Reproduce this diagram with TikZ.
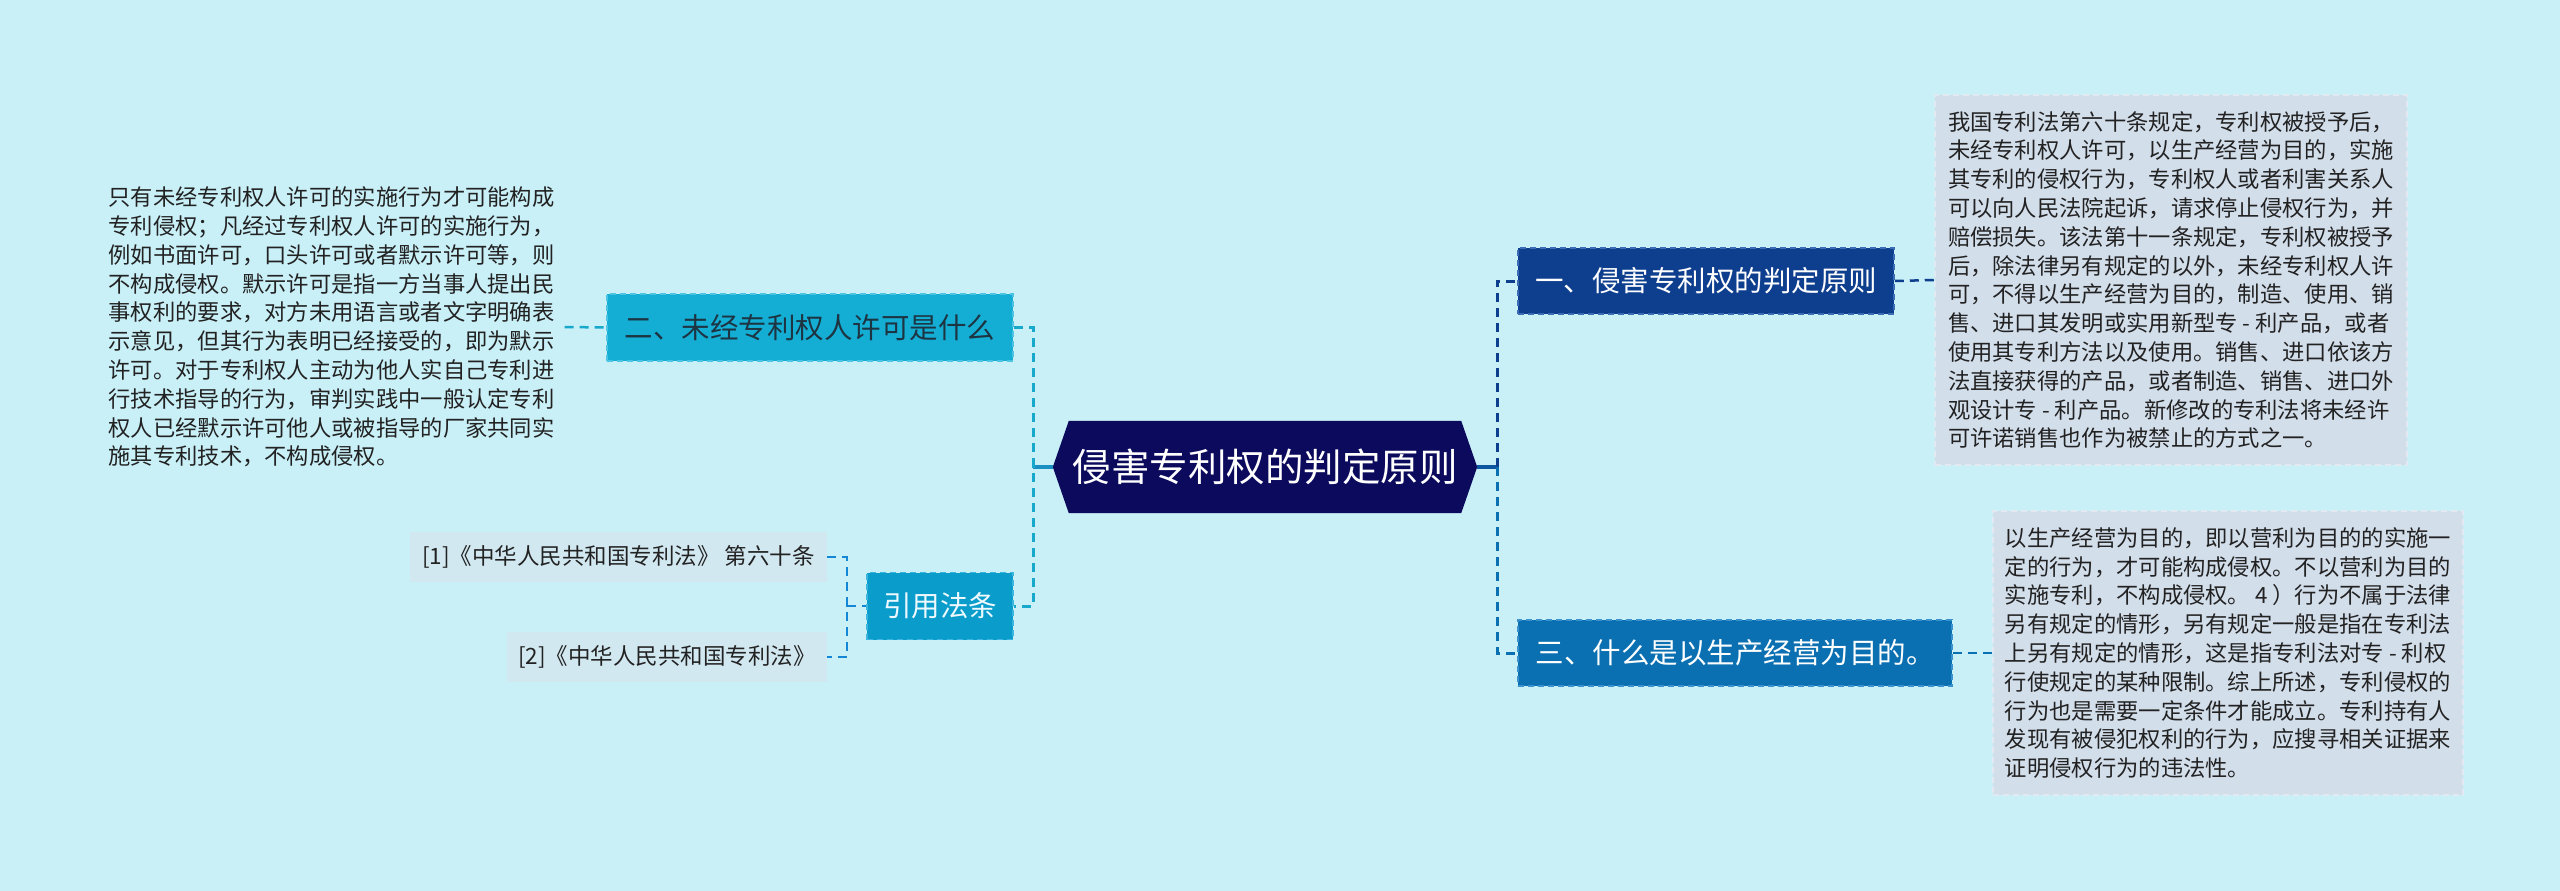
\documentclass[tikz,border=0pt]{standalone}
\usepackage{fontspec}
\setmainfont{Noto Sans CJK SC}
\usetikzlibrary{calc}
\pgfdeclarelayer{background}
\pgfsetlayers{background,main}
\definecolor{bgc}{HTML}{C9EFF7}
\definecolor{rootc}{HTML}{0B0A5C}
\definecolor{oneC}{HTML}{0E3E8E}
\definecolor{oneB}{HTML}{3C6CB4}
\definecolor{threeC}{HTML}{0B70B2}
\definecolor{threeB}{HTML}{3C92CC}
\definecolor{twoC}{HTML}{14AED5}
\definecolor{twoB}{HTML}{4CC4E2}
\definecolor{citeC}{HTML}{0A9DCB}
\definecolor{citeB}{HTML}{3CB6DE}
\definecolor{boxC}{HTML}{D3DEEB}
\definecolor{boxB}{HTML}{E2E9F3}
\definecolor{refC}{HTML}{D2E8F1}
\definecolor{leftL}{HTML}{18A8CC}
\definecolor{stubL}{HTML}{1A8FC2}
\definecolor{txt}{HTML}{222222}
\definecolor{twoT}{HTML}{1D3442}
\begin{document}
\begin{tikzpicture}[x=1pt,y=-1pt,
  bodyfont/.style={font=\fontsize{22.3}{28.8}\selectfont},
  lvone/.style={font=\fontsize{28.5}{34}\selectfont, inner sep=0pt, line width=1.5pt, dash pattern=on 6pt off 4pt},
  textbox/.style={bodyfont, text=txt, align=left, inner sep=0pt, fill=boxC, draw=boxB, line width=1.2pt, dash pattern=on 6pt off 4pt},
  refbox/.style={font=\fontsize{22.5}{28}\selectfont, text=txt, inner sep=0pt, fill=refC},
  bus/.style={line width=3pt, dash pattern=on 9pt off 6pt},
  link/.style={line width=2.5pt, dash pattern=on 9pt off 6pt},
  stub/.style={line width=4pt}]
\begin{pgfonlayer}{background}
\fill[bgc] (0,0) rectangle (2560,891);
\end{pgfonlayer}
\useasboundingbox (0,0) rectangle (2560,891);

% root
\node[font=\fontsize{38.5}{44}\selectfont, text=white, minimum width=424pt, minimum height=92pt, inner sep=0pt] (root) at (1265,467) {侵害专利权的判定原则};
\begin{pgfonlayer}{background}
\fill[rootc] ([xshift=16pt]root.north west) -- ([xshift=-16pt]root.north east) -- (root.east) -- ([xshift=-16pt]root.south east) -- ([xshift=16pt]root.south west) -- (root.west) -- cycle;
\end{pgfonlayer}

% level one nodes
\node[lvone, fill=oneC, draw=oneB, text=white, minimum width=376pt, minimum height=66pt] (n1) at (1706,281) {一、侵害专利权的判定原则};
\node[lvone, fill=threeC, draw=threeB, text=white, minimum width=434pt, minimum height=66pt] (n3) at (1735,653) {三、什么是以生产经营为目的。};
\node[lvone, fill=twoC, draw=twoB, text=twoT, minimum width=406pt, minimum height=67pt] (n2) at (810,327.5) {二、未经专利权人许可是什么};
\node[lvone, fill=citeC, draw=citeB, text=white!93!cyan, minimum width=146pt, minimum height=67pt] (n4) at (940,606) {引用法条};

% text boxes
\node[textbox, minimum width=472pt, minimum height=370pt] (b1) at (2171,280) {我国专利法第六十条规定，专利权被授予后，\\未经专利权人许可，以生产经营为目的，实施\\其专利的侵权行为，专利权人或者利害关系人\\可以向人民法院起诉，请求停止侵权行为，并\\赔偿损失。该法第十一条规定，专利权被授予\\后，除法律另有规定的以外，未经专利权人许\\可，不得以生产经营为目的，制造、使用、销\\售、进口其发明或实用新型专 - 利产品，或者\\使用其专利方法以及使用。销售、进口依该方\\法直接获得的产品，或者制造、销售、进口外\\观设计专 - 利产品。新修改的专利法将未经许\\可许诺销售也作为被禁止的方式之一。};
\node[textbox, minimum width=470pt, minimum height=284pt] (b2) at (2228,653) {以生产经营为目的，即以营利为目的的实施一\\定的行为，才可能构成侵权。不以营利为目的\\实施专利，不构成侵权。 4 ）行为不属于法律\\另有规定的情形，另有规定一般是指在专利法\\上另有规定的情形，这是指专利法对专 - 利权\\行使规定的某种限制。综上所述，专利侵权的\\行为也是需要一定条件才能成立。专利持有人\\发现有被侵犯权利的行为，应搜寻相关证据来\\证明侵权行为的违法性。};
\node[bodyfont, text=txt, align=left, inner xsep=10pt, inner ysep=0pt] (lt) at (331.5,327) {只有未经专利权人许可的实施行为才可能构成\\专利侵权；凡经过专利权人许可的实施行为，\\例如书面许可，口头许可或者默示许可等，则\\不构成侵权。默示许可是指一方当事人提出民\\事权利的要求，对方未用语言或者文字明确表\\示意见，但其行为表明已经接受的，即为默示\\许可。对于专利权人主动为他人实自己专利进\\行技术指导的行为，审判实践中一般认定专利\\权人已经默示许可他人或被指导的厂家共同实\\施其专利技术，不构成侵权。};

% references
\node[refbox, minimum width=417pt, minimum height=50pt] (r1) at (618.5,557) {[1]《中华人民共和国专利法》 第六十条};
\node[refbox, minimum width=320pt, minimum height=50pt] (r2) at (667,657) {[2]《中华人民共和国专利法》};

% connectors
\coordinate (lb) at (1033,467);
\coordinate (rb) at (1497,467);
\coordinate (cb) at (847,606);
\draw[stub, stubL] (root.west) -- (lb);
\draw[stub, oneC!50!threeC] (root.east) -- (rb);
\draw[bus, leftL] (n2.east) -| (lb) |- (n4.east);
\draw[bus, oneC] (rb) |- (n1.west);
\draw[bus, threeC] (rb) |- (n3.west);
\draw[link, oneC] (n1.east) -- (b1.west);
\draw[link, threeC] (n3.east) -- (b2.west);
\draw[link, leftL] (lt.east) -- (n2.west);
\draw[link, leftL!80!blue] (r1.east) -| (cb) |- (r2.east);
\draw[link, leftL!80!blue] (cb) -- (n4.west);
\end{tikzpicture}
\end{document}
